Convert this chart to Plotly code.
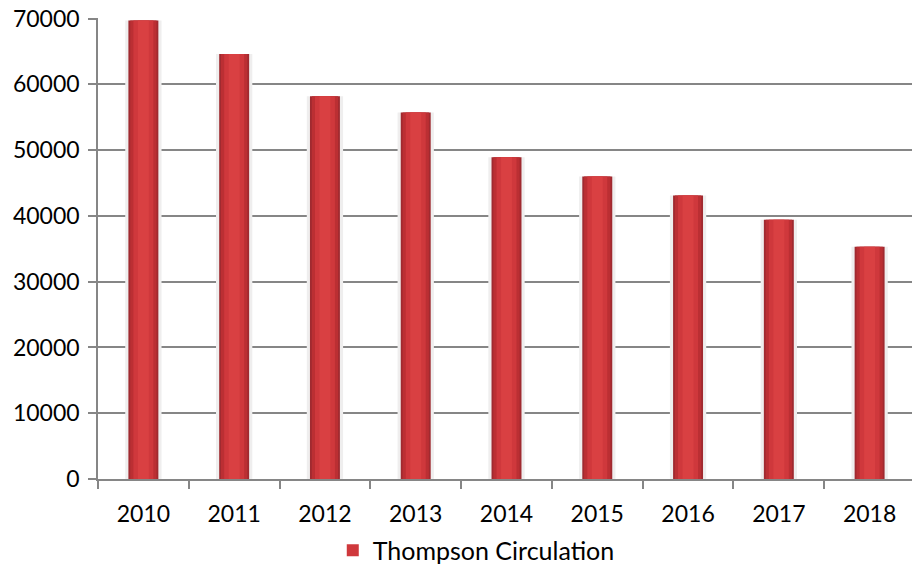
import plotly.graph_objects as go

years = ["2010", "2011", "2012", "2013", "2014", "2015", "2016", "2017", "2018"]
circulation = [69700, 64600, 58200, 55700, 48900, 46000, 43100, 39400, 35300]
series_name = "Thompson Circulation"
y_ticks = [0, 10000, 20000, 30000, 40000, 50000, 60000, 70000]
y_tick_labels = [str(v) for v in y_ticks]

fig = go.Figure()
# soft shadow
fig.add_trace(go.Bar(x=years, y=circulation, width=0.4, marker=dict(color="#efeeee", line=dict(width=0)),
                     showlegend=False, hoverinfo="skip"))
# cylinder-like shading layers
layers = [(0.33, "#a02a30"), (0.29, "#bb2f33"), (0.22, "#cf383c"), (0.12, "#d94042")]
for i, (w, c) in enumerate(layers):
    fig.add_trace(go.Bar(x=years, y=circulation, width=w, marker=dict(color=c, line=dict(width=0)),
                         name=series_name, showlegend=(i == 2)))

fig.update_layout(
    barmode="overlay",
    width=912, height=558,
    margin=dict(l=90, r=5, t=10, b=87, autoexpand=False),
    paper_bgcolor="white", plot_bgcolor="white",
    font=dict(family="Lato, 'Open Sans', sans-serif", size=23, color="#000000"),
    showlegend=True,
    legend=dict(orientation="h", x=0.463, xanchor="center", y=-0.155, yanchor="middle",
                font=dict(size=25), itemsizing="constant", itemwidth=30),
)
fig.update_xaxes(type="category", tickson="boundaries", ticks="outside", ticklen=8, tickcolor="#868686",
                 tickwidth=1.5, showline=True, linecolor="#868686", linewidth=1.5, showgrid=False,
                 automargin=False, ticklabelstandoff=14)
fig.update_yaxes(range=[0, 70080], tickvals=y_ticks, ticktext=y_tick_labels, ticks="outside", ticklen=8,
                 tickcolor="#868686", tickwidth=1.5, showline=True, linecolor="#868686", linewidth=1.5,
                 showgrid=True, gridcolor="#868686", gridwidth=1.5, zeroline=False, ticklabelstandoff=4,
                 automargin=False, ticklabeloverflow="allow")

fig.write_html("out.html")
